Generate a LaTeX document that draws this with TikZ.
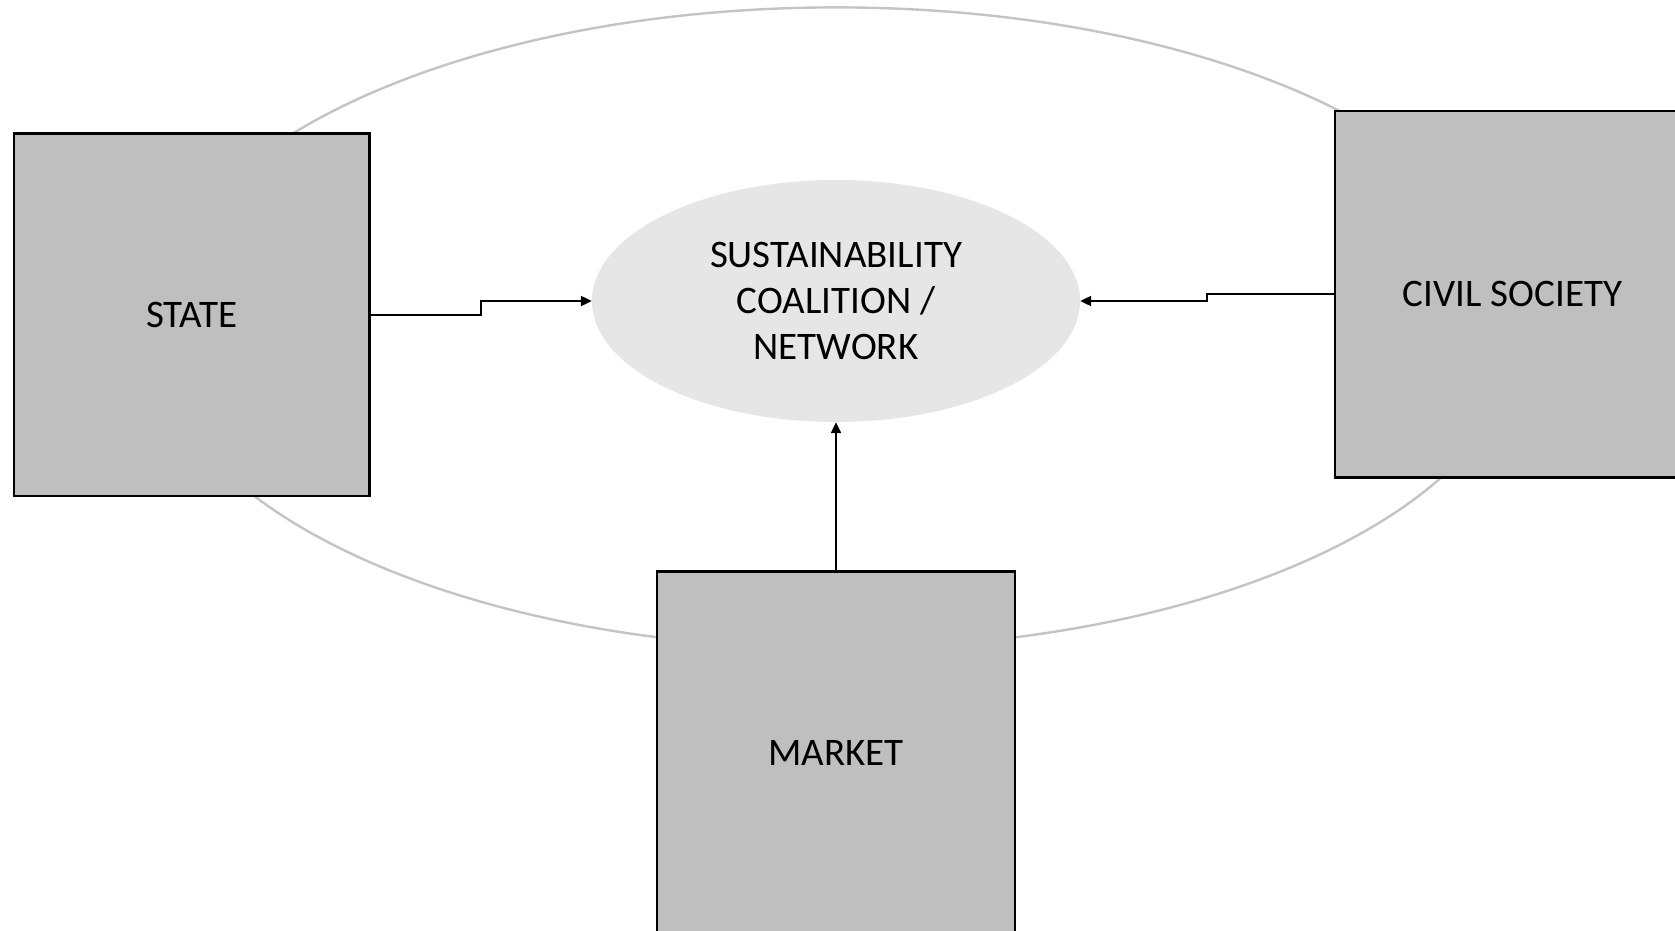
\documentclass[tikz,border=0pt]{standalone}
\usepackage{fontspec}
\setmainfont{Carlito}
\usetikzlibrary{shapes.geometric,arrows.meta,calc}
\definecolor{boxgray}{HTML}{BFBFBF}
\definecolor{ringgray}{HTML}{C4C4C4}
\definecolor{coregray}{HTML}{E6E6E6}
\tikzset{
  actor/.style={draw=black, line width=2.4pt, fill=boxgray, rectangle, inner sep=0pt,
    font=\fontsize{39}{46}\selectfont},
  core/.style={ellipse, fill=coregray, draw=none, inner sep=0pt, align=center,
    minimum width=488pt, minimum height=242pt, font=\fontsize{39}{46}\selectfont},
  ring/.style={draw=ringgray, line width=2.4pt},
  link/.style={draw=black, line width=2.2pt, -{Triangle[length=11pt,width=10pt]}}
}
\begin{document}
\begin{tikzpicture}[x=1pt,y=-1pt]
\useasboundingbox (0,0) rectangle (1675,931);
\clip (0,0) rectangle (1675,931);
\fill[white] (0,0) rectangle (1675,931);
\draw[ring] (836.4,327.9) ellipse [x radius=683.6, y radius=320.5];
\node[actor, minimum width=355.7pt, minimum height=362.2pt] (state) at (191.7,314.6) {STATE};
\node[actor, minimum width=355pt, minimum height=366.5pt] (civil) at (1512.5,294.3) {CIVIL SOCIETY};
\node[actor, minimum width=358pt, minimum height=363pt] (market) at (836,753) {MARKET};
\node[core] (inner) at (836,301) {SUSTAINABILITY\\COALITION /\\NETWORK};
\coordinate (smid) at ($(state.east)!0.5!(inner.west)$);
\coordinate (cmid) at ($(civil.west)!0.5!(inner.east)$);
\draw[link] (state.east) -| (smid) |- (inner.west);
\draw[link] (civil.west) -| (cmid) |- (inner.east);
\draw[link] (market.north) -- (inner.south);
\end{tikzpicture}
\end{document}
